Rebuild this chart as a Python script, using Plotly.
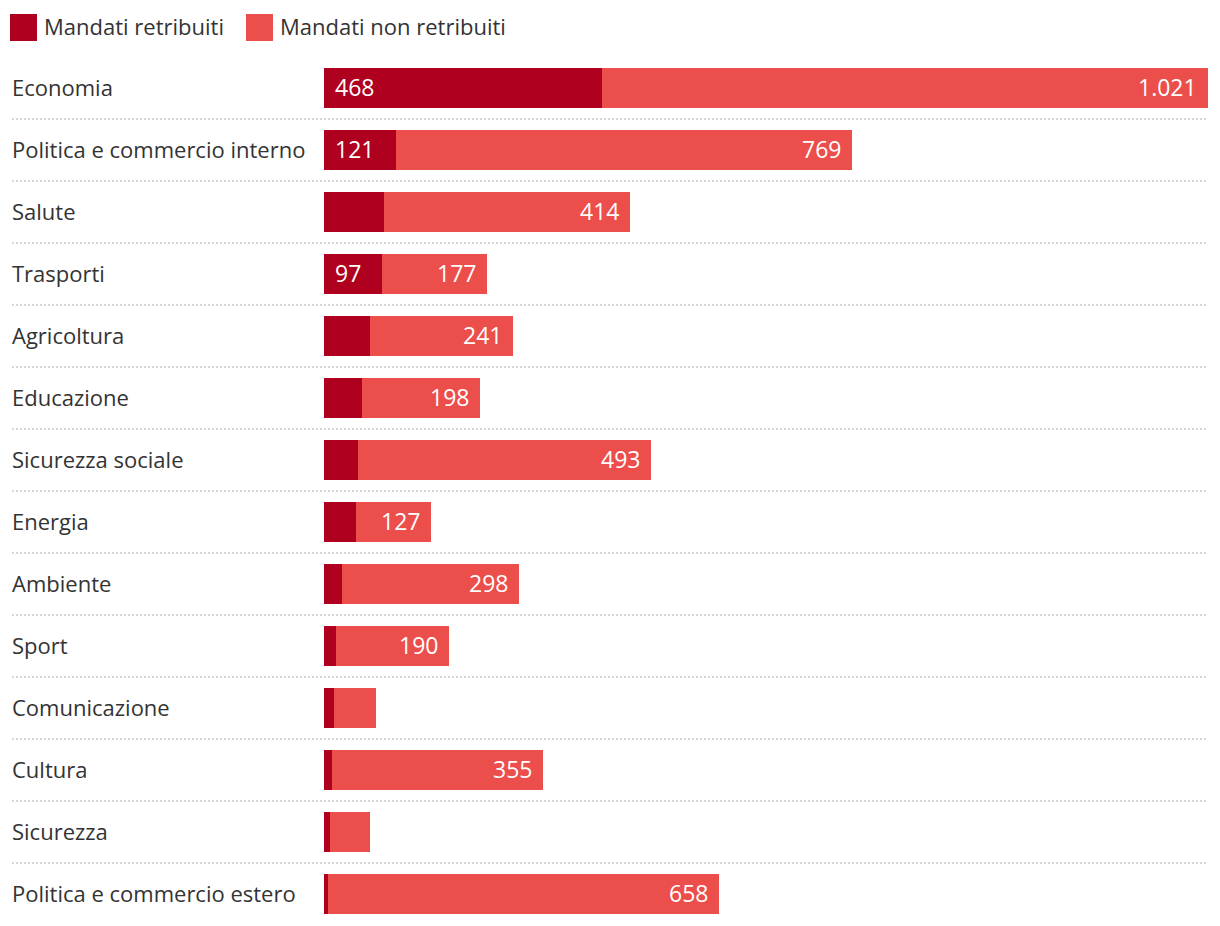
import plotly.graph_objects as go

categories = [
    "Economia", "Politica e commercio interno", "Salute", "Trasporti", "Agricoltura",
    "Educazione", "Sicurezza sociale", "Energia", "Ambiente", "Sport",
    "Comunicazione", "Cultura", "Sicurezza", "Politica e commercio estero",
]
retribuiti = [468, 121, 101, 97, 78, 64, 58, 54, 30, 21, 17, 14, 10, 7]
non_retribuiti = [1021, 769, 414, 177, 241, 198, 493, 127, 298, 190, 70, 355, 67, 658]
show_ret_label = [True, True, False, True, False, False, False, False, False, False, False, False, False, False]
show_non_label = [True, True, True, True, True, True, True, True, True, True, False, True, False, True]
series_names = ["Mandati retribuiti", "Mandati non retribuiti"]

DARK = "#b0001f"
LIGHT = "#ec4e4b"
TEXT = "#333333"
FONT = "Open Sans"
LABEL_SIZE = 22
VALUE_SIZE = 23

W, H = 1220, 926
ML, MR, MT, MB = 324, 12, 57, 1
PW = W - ML - MR
PH = H - MT - MB


def px_x(px):
    return (px - ML) / PW


def px_y(py):
    return (H - MB - py) / PH


def fmt(v):
    return f"{v:,}".replace(",", ".")


fig = go.Figure()
fig.add_trace(go.Bar(y=categories, x=retribuiti, orientation="h", name=series_names[0],
                     marker=dict(color=DARK, line=dict(width=0)), hoverinfo="skip"))
fig.add_trace(go.Bar(y=categories, x=non_retribuiti, orientation="h", name=series_names[1],
                     marker=dict(color=LIGHT, line=dict(width=0)), hoverinfo="skip"))

annotations = []
shapes = []
n = len(categories)
for i, cat in enumerate(categories):
    annotations.append(dict(x=px_x(10), xref="paper", y=cat, yref="y", text=cat,
                            xanchor="left", yanchor="middle", yshift=1, showarrow=False,
                            font=dict(family=FONT, size=LABEL_SIZE, color=TEXT)))
    if show_ret_label[i]:
        annotations.append(dict(x=0, xref="x", y=cat, yref="y", text=fmt(retribuiti[i]),
                                xanchor="left", yanchor="middle", xshift=9, yshift=1,
                                showarrow=False,
                                font=dict(family=FONT, size=VALUE_SIZE, color="white")))
    if show_non_label[i]:
        annotations.append(dict(x=retribuiti[i] + non_retribuiti[i], xref="x", y=cat, yref="y",
                                text=fmt(non_retribuiti[i]), xanchor="right", yanchor="middle",
                                xshift=-9, yshift=1, showarrow=False,
                                font=dict(family=FONT, size=VALUE_SIZE, color="white")))
    if i < n - 1:
        shapes.append(dict(type="line", xref="paper", yref="y", x0=px_x(12), x1=1,
                           y0=i + 0.5, y1=i + 0.5,
                           line=dict(color="#d6d6d6", width=2, dash="2px,2px")))

# legend
for j, (name, col, sx) in enumerate(zip(series_names, [DARK, LIGHT], [10, 246])):
    shapes.append(dict(type="rect", xref="paper", yref="paper",
                       x0=px_x(sx), x1=px_x(sx + 27), y0=px_y(41), y1=px_y(14),
                       fillcolor=col, line=dict(width=0)))
    annotations.append(dict(x=px_x(sx + 32), xref="paper", y=px_y(26), yref="paper",
                            text=name, xanchor="left", yanchor="middle", showarrow=False,
                            font=dict(family=FONT, size=LABEL_SIZE, color=TEXT)))

totals = [a + b for a, b in zip(retribuiti, non_retribuiti)]
fig.update_layout(
    width=W, height=H,
    margin=dict(l=ML, r=MR, t=MT, b=MB),
    barmode="stack", bargap=22 / 62,
    showlegend=False,
    plot_bgcolor="white", paper_bgcolor="white",
    xaxis=dict(range=[0, max(totals)], visible=False, fixedrange=True),
    yaxis=dict(categoryorder="array", categoryarray=categories, autorange=False,
               range=[n - 0.5, -0.5], visible=False, fixedrange=True),
    annotations=annotations, shapes=shapes,
    separators=",.",
    font=dict(family=FONT, color=TEXT),
)
fig.write_html("out.html", config={"displayModeBar": False})
